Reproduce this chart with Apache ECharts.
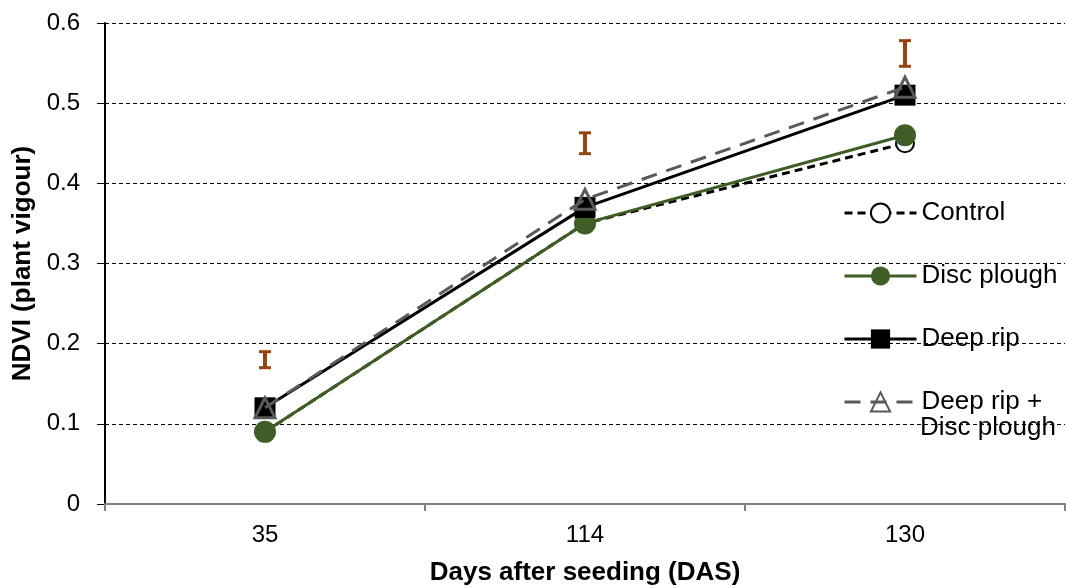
<!DOCTYPE html>
<html>
<head>
<meta charset="utf-8">
<script src="https://cdn.jsdelivr.net/npm/echarts@6/dist/echarts.min.js"></script>
<style>
  html, body { margin: 0; padding: 0; background: #fff; }
  #chart { width: 1066px; height: 588px; }
</style>
</head>
<body>
<div id="chart"></div>
<script>
// values
const days = ["35", "114", "130"];
const control = [0.09, 0.35, 0.45];
const disc_plough = [0.09, 0.35, 0.46];
const deep_rip = [0.12, 0.37, 0.51];
const deep_rip_disc = [0.12, 0.38, 0.52];
// error bar ends (LSD bars above each date)
const err_low = [0.17, 0.437, 0.546];
const err_high = [0.19, 0.463, 0.578];

const FONT = "Liberation Sans";
const BROWN = "#94450f";
const GREEN = "#3f5e25";
const GREY = "#595959";

const chart = echarts.init(document.getElementById("chart"), null, { renderer: "canvas" });

// draws an "I" bar from lo to hi at each category
function render_err(params, api) {
    const lo = api.coord([api.value(0), api.value(1)]);
    const hi = api.coord([api.value(0), api.value(2)]);
    const x = lo[0];
    const half = 6;
    const cap = { stroke: BROWN, lineWidth: 3 };
    return {
        type: "group",
        children: [
            { type: "line", shape: { x1: x, y1: lo[1], x2: x, y2: hi[1] }, style: { stroke: BROWN, lineWidth: 4 } },
            { type: "line", shape: { x1: x - half, y1: lo[1], x2: x + half, y2: lo[1] }, style: cap },
            { type: "line", shape: { x1: x - half, y1: hi[1], x2: x + half, y2: hi[1] }, style: cap },
        ],
    };
}

chart.setOption({
    animation: false,
    textStyle: { fontFamily: FONT },
    grid: { left: 105, top: 23, width: 960, height: 481, outerBoundsMode: "none", containLabel: false },
    legend: {
        orient: "vertical",
        left: 838,
        top: 193,
        itemWidth: 72,
        itemHeight: 24,
        itemGap: 33,
        itemTextGap: 5,
        lineStyle: { width: 3 },
        textStyle: { fontFamily: FONT, fontSize: 26, color: "#000", lineHeight: 30 },
        formatter: (name) => (name === "Deep rip + Disc plough" ? "Deep rip +" : name),
        data: ["Control", "Disc plough", "Deep rip", "Deep rip + Disc plough"],
    },
    graphic: [
        {
            type: "text",
            x: 920,
            y: 428,
            style: { text: "Disc plough", font: `26px '${FONT}'`, fill: "#000", verticalAlign: "middle" },
        },
    ],
    xAxis: {
        type: "category",
        data: days,
        boundaryGap: true,
        name: "Days after seeding (DAS)",
        nameLocation: "middle",
        nameGap: 56,
        nameTextStyle: { fontFamily: FONT, fontSize: 26, fontWeight: "bold", color: "#000" },
        axisLine: { lineStyle: { color: "#808080", width: 2 } },
        axisTick: { show: true, length: 7, lineStyle: { color: "#808080", width: 2 } },
        axisLabel: { fontFamily: FONT, fontSize: 24, color: "#000", margin: 19 },
        splitLine: { show: false },
    },
    yAxis: {
        type: "value",
        min: 0,
        max: 0.6,
        interval: 0.1,
        name: "NDVI (plant vigour)",
        nameLocation: "middle",
        nameGap: 66,
        nameRotate: 90,
        nameTextStyle: { fontFamily: FONT, fontSize: 26, fontWeight: "bold", color: "#000" },
        axisLine: { show: true, lineStyle: { color: "#000", width: 2 } },
        axisTick: { show: true, inside: false, length: 8, lineStyle: { color: "#000", width: 1 } },
        axisLabel: { fontFamily: FONT, fontSize: 24, color: "#000", margin: 25 },
        splitLine: { show: true, lineStyle: { color: "#000", width: 1, type: [4, 3] } },
    },
    series: [
        {
            name: "Control",
            type: "line",
            data: control,
            symbol: "emptyCircle",
            symbolSize: 18,
            lineStyle: { color: "#000", width: 3, type: [8, 5] },
            itemStyle: { color: "#000", borderWidth: 3 },
            z: 2,
        },
        {
            name: "Disc plough",
            type: "line",
            data: disc_plough,
            symbol: "circle",
            symbolSize: 22,
            lineStyle: { color: GREEN, width: 3 },
            itemStyle: { color: GREEN },
            z: 3,
        },
        {
            name: "Deep rip",
            type: "line",
            data: deep_rip,
            symbol: "rect",
            symbolSize: 21,
            lineStyle: { color: "#000", width: 3 },
            itemStyle: { color: "#000" },
            z: 4,
        },
        {
            name: "Deep rip + Disc plough",
            type: "line",
            data: deep_rip_disc,
            symbol: "triangle",
            symbolSize: 20,
            lineStyle: { color: GREY, width: 3, type: [16, 10] },
            itemStyle: { color: "rgba(0,0,0,0)", borderColor: GREY, borderWidth: 3 },
            z: 5,
        },
        {
            name: "LSD",
            type: "custom",
            renderItem: render_err,
            data: days.map((d, i) => [i, err_low[i], err_high[i]]),
            encode: { x: 0, y: [1, 2] },
            z: 6,
        },
    ],
});
</script>
</body>
</html>
